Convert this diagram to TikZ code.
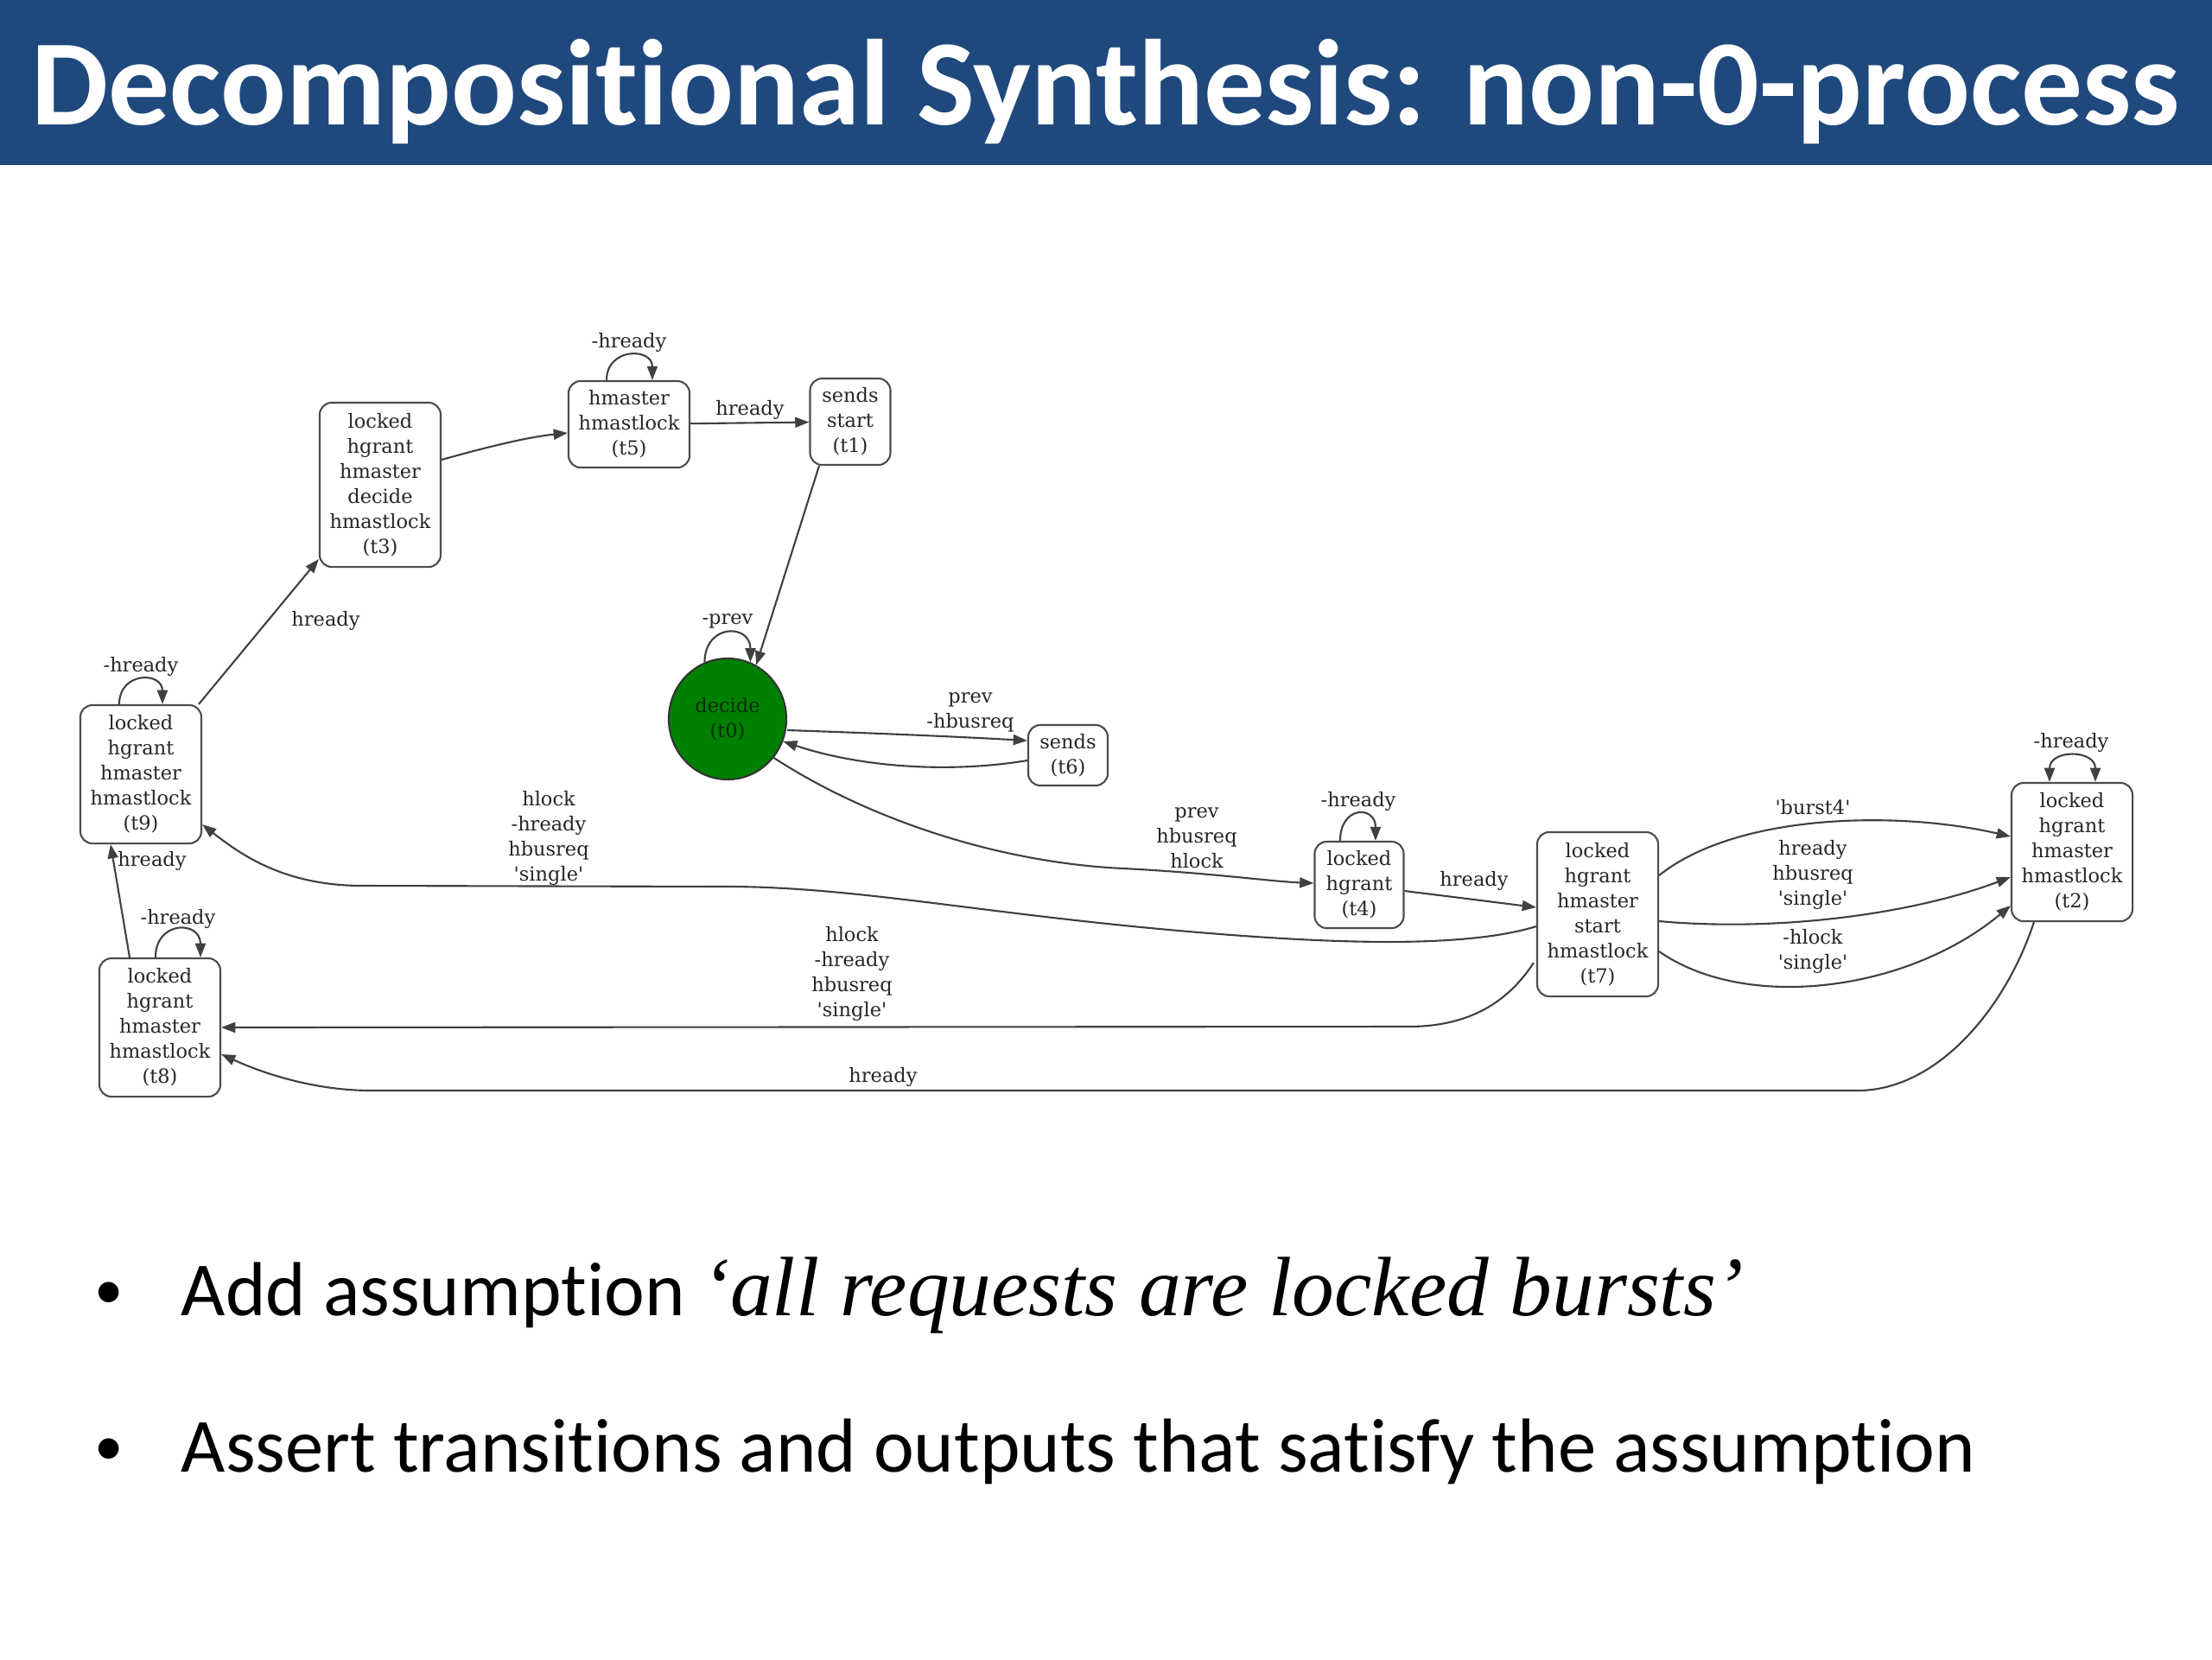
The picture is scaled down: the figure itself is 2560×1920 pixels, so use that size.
\documentclass[tikz,border=0pt]{standalone}
\usepackage{fontspec}
\setmainfont{Carlito}[Ligatures=NoCommon]
\newfontfamily\dotfont{DejaVu Serif}
\newfontfamily\assumfont{Liberation Serif}[Scale=1.1]
\usetikzlibrary{arrows.meta,shapes.geometric,calc}

\definecolor{titleblue}{RGB}{31,73,125}
\definecolor{leafgreen}{RGB}{0,128,0}
\definecolor{decidetext}{RGB}{10,45,10}
\newcommand{\sq}{\textquotesingle}

\begin{document}
\begin{tikzpicture}[
    x=0.01cm, y=-0.01cm,
    >={Triangle[length=4.6pt,width=3.4pt]},
    state/.style={
        rectangle,
        rounded corners=4pt,
        draw=black!70,
        line width=0.6pt,
        fill=white,
        font=\dotfont\fontsize{6.4}{8.25}\selectfont,
        text=black!85,
        align=center,
        inner sep=1pt,
        minimum width=1.4cm
    },
    decision/.style={
        ellipse,
        draw=black!80,
        line width=0.6pt,
        fill=leafgreen,
        font=\dotfont\fontsize{6.4}{8.25}\selectfont,
        text=decidetext,
        align=center,
        inner sep=0pt,
        minimum width=1.36cm,
        minimum height=1.4cm
    },
    trans/.style={->,draw=black!75,line width=0.6pt},
    lbl/.style={
        font=\dotfont\fontsize{6.4}{8.25}\selectfont,
        text=black!85,
        align=center,
        inner sep=0pt
    },
    item/.style={
        font=\fontsize{25.2}{30}\selectfont,
        anchor=base west,
        inner sep=0pt
    },
    dotitem/.style={
        font=\fontsize{19}{24}\selectfont,
        anchor=base,
        inner sep=0pt
    }
]
\useasboundingbox (0,0) rectangle (2560,1920);
\fill[white] (0,0) rectangle (2560,1920);

% Title bar
\fill[titleblue] (0,0) rectangle (2560,191);
\node[anchor=base west,inner sep=0pt,text=white,font=\bfseries\fontsize{40.2}{46}\selectfont] (title) at (36,144) {Decompositional Synthesis: non-0-process};

% States of the non-0 process
\node[state,minimum height=1.9cm] (t3) at (440,561) {locked\\hgrant\\hmaster\\decide\\hmastlock\\(t3)};
\node[state,minimum height=1.0cm] (t5) at (728,491) {hmaster\\hmastlock\\(t5)};
\node[state,minimum width=0.93cm,minimum height=1.0cm] (t1) at (984,488) {sends\\start\\(t1)};
\node[decision] (t0) at (842,832) {decide\\(t0)};
\node[state,minimum width=0.92cm,minimum height=0.7cm] (t6) at (1236,874) {sends\\(t6)};
\node[state,minimum height=1.6cm] (t9) at (163,896) {locked\\hgrant\\hmaster\\hmastlock\\(t9)};
\node[state,minimum height=1.6cm] (t8) at (185,1189) {locked\\hgrant\\hmaster\\hmastlock\\(t8)};
\node[state,minimum width=1.03cm,minimum height=1.0cm] (t4) at (1573,1024) {locked\\hgrant\\(t4)};
\node[state,minimum height=1.9cm] (t7) at (1849,1058) {locked\\hgrant\\hmaster\\start\\hmastlock\\(t7)};
\node[state,minimum height=1.6cm] (t2) at (2398,986) {locked\\hgrant\\hmaster\\hmastlock\\(t2)};

% Upper chain t9 -> t3 -> t5 -> t1 -> t0
\draw[trans] (t9) -- (t3);
\draw[trans] ($(t3.east)+(0,-29)$) .. controls +(50,-14) and +(-48,5) .. ($(t5.west)+(0,10)$);
\draw[trans] (t5) -- (t1);
\draw[trans] ($(t1.south)+(-36,0)$) -- (t0.62);

% Decision state and its side trip to t6
\draw[trans] ($(t0.east)+(0,13)$) .. controls +(90,3) and +(-90,-5) .. ($(t6.west)+(0,-17)$);
\draw[trans] ($(t6.west)+(0,6)$) .. controls +(-90,15) and +(90,30) .. (t0.-22);
\draw[trans] (t0.-40) .. controls (1000,945) and (1150,998) .. (1300,1005) .. controls (1400,1010) and (1470,1020) .. ($(t4.west)+(0,-2)$);
\draw[trans] ($(t4.east)+(0,7)$) -- ($(t7.west)+(0,-8)$);

% Long returns to the left
\draw[trans] ($(t7.west)+(0,14)$) .. controls (1700,1096) and (1560,1093) .. (1400,1080) .. controls (1150,1060) and (1000,1027) .. (847,1026) -- (420,1025) .. controls (330,1025) and (280,990) .. ($(t9.south east)+(0,-23)$);
\draw[trans] ($(t7.south west)+(-3,-40)$) .. controls (1745,1160) and (1700,1188) .. (1630,1188) -- (t8.east);
\draw[trans] ($(t2.south west)+(27,0)$) .. controls (2320,1170) and (2240,1262) .. (2150,1262) -- (430,1262) .. controls (360,1262) and (300,1240) .. ($(t8.east)+(0,31)$);
\draw[trans] ($(t8.north)+(-35,0)$) -- ($(t9.south)+(-35,0)$);

% Burst transitions t7 -> t2
\draw[trans] ($(t7.east)+(0,-45)$) .. controls +(90,-72) and +(-130,-30) .. ($(t2.west)+(0,-18)$);
\draw[trans] ($(t7.east)+(0,8)$) .. controls +(130,12) and +(-120,45) .. ($(t2.west)+(0,29)$);
\draw[trans] ($(t7.east)+(0,43)$) .. controls +(100,70) and +(-120,100) .. ($(t2.west)+(0,62)$);

% Self loops
\draw[trans] ($(t9.north)+(-25,0)$) .. controls +(0,-38) and +(0,-38) .. ($(t9.north)+(25,0)$);
\draw[trans] ($(t8.north)+(-5,0)$) .. controls +(0,-43) and +(0,-43) .. ($(t8.north)+(47,0)$);
\draw[trans] ($(t5.north)+(-26,0)$) .. controls +(0,-38) and +(0,-38) .. ($(t5.north)+(27,0)$);
\draw[trans] ($(t4.north)+(-22,0)$) .. controls +(0,-41) and +(0,-41) .. ($(t4.north)+(19,0)$);
\draw[trans,<->] ($(t2.north)+(-26,0)$) .. controls +(0,-38) and +(0,-38) .. ($(t2.north)+(27,0)$);
\draw[trans] (t0.112) .. controls +(0,-45) and +(0,-45) .. (t0.68);

% Transition labels
\node[lbl] (l93) at (377,718) {hready};
\node[lbl] (l99) at (163,771) {-hready};
\node[lbl] (l55) at (728,396) {-hready};
\node[lbl] (l51) at (868,474) {hready};
\node[lbl] (l00) at (842,719) {-prev};
\node[lbl] (l06) at (1123,824) {prev\\-hbusreq};
\node[lbl] (l04) at (1385,970) {prev\\hbusreq\\hlock};
\node[lbl] (l44) at (1572,927) {-hready};
\node[lbl] (l47) at (1706,1019) {hready};
\node[lbl] (l79) at (635,970) {hlock\\-hready\\hbusreq\\\sq single\sq};
\node[lbl] (l78) at (986,1127) {hlock\\-hready\\hbusreq\\\sq single\sq};
\node[lbl] (l28) at (1022,1246) {hready};
\node[lbl] (l72a) at (2098,934) {\sq burst4\sq};
\node[lbl] (l72b) at (2098,1012) {hready\\hbusreq\\\sq single\sq};
\node[lbl] (l72c) at (2098,1101) {-hlock\\\sq single\sq};
\node[lbl] (l22) at (2397,859) {-hready};
\node[lbl] (l89) at (176,996) {hready};
\node[lbl] (l88) at (206,1063) {-hready};

% Bullets
\node[dotitem] (dot1) at (126,1514) {•};
\node[item] (item1) at (209,1522) {Add assumption {\assumfont\itshape ‘all requests are locked bursts’}};
\node[dotitem] (dot2) at (126,1695) {•};
\node[item] (item2) at (209,1703) {Assert transitions and outputs that satisfy the assumption};

\end{tikzpicture}
\end{document}
